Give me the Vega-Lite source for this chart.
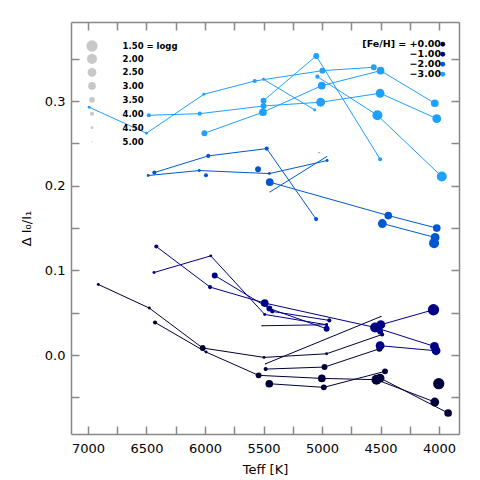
{
"$schema": "https://vega.github.io/schema/vega-lite/v6.json",
"width": 388, "height": 412,
"autosize": "none",
"padding": {"left": 71, "top": 22, "right": 21, "bottom": 46},
"background": "white",
"config": {"view": {"stroke": null}, "font": "DejaVu Sans"},
"data": {"values": [
{"id":"K1","o":1,"t":6912,"v":0.0834,"g":4.5,"f":0},
{"id":"K1","o":2,"t":6476,"v":0.0555,"g":4.5,"f":0},
{"id":"K1","o":3,"t":6020,"v":0.0083,"g":3.5,"f":0},
{"id":"K1","o":4,"t":5496,"v":-0.0028,"g":4.5,"f":0},
{"id":"K1","o":5,"t":4961,"v":0.0015,"g":4.5,"f":0},
{"id":"K1","o":6,"t":4487,"v":0.0243,"g":4.0,"f":0},
{"id":"K2","o":1,"t":6427,"v":0.0385,"g":4.0,"f":0},
{"id":"K2","o":2,"t":5991,"v":0.0035,"g":4.5,"f":0},
{"id":"K2","o":3,"t":5542,"v":-0.024,"g":3.5,"f":0},
{"id":"K2","o":4,"t":5002,"v":-0.0276,"g":3.0,"f":0},
{"id":"K2","o":5,"t":4535,"v":-0.0291,"g":2.0,"f":0},
{"id":"K2","o":6,"t":4037,"v":-0.0555,"g":2.5,"f":0},
{"id":"K3","o":1,"t":5482,"v":-0.0166,"g":4.0,"f":0},
{"id":"K3","o":2,"t":4979,"v":-0.0142,"g":3.5,"f":0},
{"id":"K3","o":3,"t":4510,"v":0.0074,"g":3.5,"f":0},
{"id":"K4","o":1,"t":5482,"v":-0.0103,"g":5.0,"f":0},
{"id":"K4","o":2,"t":4496,"v":0.0456,"g":5.0,"f":0},
{"id":"K5","o":1,"t":5451,"v":-0.0339,"g":3.0,"f":0},
{"id":"K5","o":2,"t":4985,"v":-0.0382,"g":3.5,"f":0},
{"id":"K5","o":3,"t":4462,"v":-0.0193,"g":3.5,"f":0},
{"id":"K6","o":1,"t":4504,"v":-0.0272,"g":2.5,"f":0},
{"id":"K6","o":2,"t":3923,"v":-0.0685,"g":3.0,"f":0},
{"id":"K7","o":1,"t":4003,"v":-0.0339,"g":1.5,"f":0},
{"id":"N1","o":1,"t":6416,"v":0.1282,"g":4.0,"f":-1},
{"id":"N1","o":2,"t":5957,"v":0.0803,"g":4.0,"f":-1},
{"id":"N1","o":3,"t":5490,"v":0.0614,"g":3.0,"f":-1},
{"id":"N1","o":4,"t":4547,"v":0.0326,"g":2.0,"f":-1},
{"id":"N1","o":5,"t":4040,"v":0.0102,"g":2.5,"f":-1},
{"id":"N2","o":1,"t":6436,"v":0.0975,"g":4.5,"f":-1},
{"id":"N2","o":2,"t":5951,"v":0.1172,"g":4.5,"f":-1},
{"id":"N2","o":3,"t":5490,"v":0.048,"g":4.5,"f":-1},
{"id":"N2","o":4,"t":4961,"v":0.0358,"g":4.5,"f":-1},
{"id":"N3","o":1,"t":5917,"v":0.094,"g":3.5,"f":-1},
{"id":"N3","o":2,"t":5450,"v":0.055,"g":3.5,"f":-1},
{"id":"N3","o":3,"t":4961,"v":0.031,"g":3.5,"f":-1},
{"id":"N4","o":1,"t":5425,"v":0.0515,"g":4.0,"f":-1},
{"id":"N4","o":2,"t":4938,"v":0.0409,"g":4.0,"f":-1},
{"id":"N5","o":1,"t":5513,"v":0.0346,"g":5.0,"f":-1},
{"id":"N5","o":2,"t":4961,"v":0.0358,"g":4.5,"f":-1},
{"id":"N6","o":1,"t":4498,"v":0.0358,"g":2.5,"f":-1},
{"id":"N6","o":2,"t":4048,"v":0.0535,"g":1.5,"f":-1},
{"id":"N7","o":1,"t":4504,"v":0.011,"g":2.5,"f":-1},
{"id":"N7","o":2,"t":4026,"v":0.0051,"g":2.5,"f":-1},
{"id":"N8","o":1,"t":4504,"v":0.0279,"g":3.5,"f":-1},
{"id":"M1","o":1,"t":6485,"v":0.2121,"g":4.5,"f":-2},
{"id":"M1","o":2,"t":6049,"v":0.218,"g":4.5,"f":-2},
{"id":"M1","o":3,"t":5450,"v":0.2144,"g":4.5,"f":-2},
{"id":"M1","o":4,"t":4957,"v":0.2298,"g":4.5,"f":-2},
{"id":"M2","o":1,"t":6433,"v":0.2156,"g":4.0,"f":-2},
{"id":"M2","o":2,"t":5972,"v":0.2353,"g":4.0,"f":-2},
{"id":"M2","o":3,"t":5473,"v":0.2439,"g":4.0,"f":-2},
{"id":"M2","o":4,"t":5051,"v":0.1606,"g":4.0,"f":-2},
{"id":"M3","o":1,"t":5444,"v":0.1928,"g":5.0,"f":-2},
{"id":"M3","o":2,"t":4960,"v":0.2345,"g":5.0,"f":-2},
{"id":"M4","o":1,"t":5447,"v":0.2043,"g":3.0,"f":-2},
{"id":"M4","o":2,"t":4434,"v":0.1648,"g":3.0,"f":-2},
{"id":"M4","o":3,"t":4020,"v":0.150,"g":3.0,"f":-2},
{"id":"M5","o":1,"t":4485,"v":0.1554,"g":2.5,"f":-2},
{"id":"M5","o":2,"t":4034,"v":0.1389,"g":2.5,"f":-2},
{"id":"M6","o":1,"t":5992,"v":0.2125,"g":4.0,"f":-2},
{"id":"M7","o":1,"t":5547,"v":0.2196,"g":3.5,"f":-2},
{"id":"M8","o":1,"t":5026,"v":0.2392,"g":5.0,"f":-2},
{"id":"M9","o":1,"t":4043,"v":0.1322,"g":2.0,"f":-2},
{"id":"L1","o":1,"t":6990,"v":0.2928,"g":4.5,"f":-3},
{"id":"L1","o":2,"t":6500,"v":0.2621,"g":4.5,"f":-3},
{"id":"L1","o":3,"t":6010,"v":0.3081,"g":4.5,"f":-3},
{"id":"L1","o":4,"t":5575,"v":0.3238,"g":4.0,"f":-3},
{"id":"L1","o":5,"t":4997,"v":0.336,"g":3.5,"f":-3},
{"id":"L1","o":6,"t":4558,"v":0.340,"g":3.5,"f":-3},
{"id":"L2","o":1,"t":6480,"v":0.2833,"g":4.0,"f":-3},
{"id":"L2","o":2,"t":6045,"v":0.2852,"g":4.0,"f":-3},
{"id":"L2","o":3,"t":5500,"v":0.2943,"g":3.5,"f":-3},
{"id":"L2","o":4,"t":5012,"v":0.2987,"g":2.5,"f":-3},
{"id":"L2","o":5,"t":4504,"v":0.3093,"g":2.5,"f":-3},
{"id":"L2","o":6,"t":4020,"v":0.2793,"g":2.5,"f":-3},
{"id":"L3","o":1,"t":6005,"v":0.2621,"g":3.5,"f":-3},
{"id":"L3","o":2,"t":5505,"v":0.2869,"g":3.0,"f":-3},
{"id":"L3","o":3,"t":5003,"v":0.3183,"g":3.0,"f":-3},
{"id":"L3","o":4,"t":4500,"v":0.336,"g":3.0,"f":-3},
{"id":"L3","o":5,"t":4037,"v":0.2975,"g":3.0,"f":-3},
{"id":"L4","o":1,"t":5500,"v":0.3006,"g":3.5,"f":-3},
{"id":"L4","o":2,"t":5050,"v":0.3534,"g":3.5,"f":-3},
{"id":"L4","o":3,"t":4504,"v":0.2314,"g":4.0,"f":-3},
{"id":"L5","o":1,"t":5500,"v":0.3258,"g":4.5,"f":-3},
{"id":"L5","o":2,"t":5063,"v":0.2896,"g":4.5,"f":-3},
{"id":"L6","o":1,"t":5040,"v":0.3289,"g":4.0,"f":-3},
{"id":"L6","o":2,"t":4527,"v":0.2833,"g":2.0,"f":-3},
{"id":"L6","o":3,"t":3977,"v":0.2109,"g":2.0,"f":-3}
]},
"layer": [
{
"mark": {"type": "line", "strokeWidth": 1},
"encoding": {
"x": {"field": "t", "type": "quantitative",
 "scale": {"domain": [3830, 7145], "reverse": true, "nice": false, "zero": false},
 "axis": {"orient": "bottom", "values": [7000,6750,6500,6250,6000,5750,5500,5250,5000,4750,4500,4250,4000],
  "format": "d", "labelExpr": "datum.value % 500 == 0 ? datum.label : ''",
  "tickSize": -8,
  "encode": {"ticks": {"update": {"y2": {"signal": "datum.value % 500 == 0 ? -16 : -8"}}}},
  "grid": false, "domainColor": "#888888", "tickColor": "#888888", "domainWidth": 1.5, "tickWidth": 1.5,
  "labelFont": "DejaVu Sans", "labelFontSize": 13, "labelColor": "black", "labelPadding": 16,
  "title": "Teff [K]", "titleFont": "DejaVu Sans", "titleFontSize": 13, "titleFontWeight": "normal", "titleColor": "black", "titlePadding": 8}},
"y": {"field": "v", "type": "quantitative",
 "scale": {"domain": [-0.0933, 0.3935], "nice": false, "zero": false},
 "axis": {"orient": "left", "values": [-0.05,0,0.05,0.1,0.15,0.2,0.25,0.3,0.35],
  "labelExpr": "abs(round(datum.value*100)) % 10 == 0 ? format(datum.value, '.1f') : ''",
  "tickSize": -8,
  "encode": {"ticks": {"update": {"x2": {"signal": "abs(round(datum.value*100)) % 10 == 0 ? 15 : 8"}}}},
  "grid": false, "domainColor": "#888888", "tickColor": "#888888", "domainWidth": 1.5, "tickWidth": 1.5,
  "labelFont": "DejaVu Sans", "labelFontSize": 13, "labelColor": "black", "labelPadding": 14,
  "title": "Δ I₀/I₁", "titleFont": "DejaVu Sans", "titleFontSize": 13, "titleFontWeight": "normal", "titleColor": "black", "titlePadding": 11}},
"color": {"field": "f", "type": "ordinal", "scale": {"domain": [0,-1,-2,-3], "range": ["#000038","#000084","#0058d0","#1ea0ff"]},
 "legend": {"orient": "none", "legendX": 367, "legendY": 17.5, "title": null, "padding": 0,
  "symbolType": "circle", "symbolSize": 24, "symbolStrokeWidth": 0,
  "labelAlign": "right", "labelOffset": -6.5, "labelFont": "DejaVu Sans", "labelFontSize": 9.5, "labelFontWeight": "bold", "labelColor": "black",
  "rowPadding": -1.5,
  "labelExpr": "datum.value == 0 ? '[Fe/H] = +0.00' : format(datum.value, '.2f')"}},
"detail": {"field": "id"},
"order": {"field": "o"}
}
},
{
"mark": {"type": "circle", "opacity": 1},
"encoding": {
"x": {"field": "t", "type": "quantitative",
 "axis": {"orient": "top", "values": [7000,6750,6500,6250,6000,5750,5500,5250,5000,4750,4500,4250,4000],
  "labels": false, "title": null, "tickSize": -8,
  "encode": {"ticks": {"update": {"y2": {"signal": "datum.value % 500 == 0 ? 16 : 8"}}}},
  "grid": false, "domainColor": "#888888", "tickColor": "#888888", "domainWidth": 1.5, "tickWidth": 1.5}},
"y": {"field": "v", "type": "quantitative",
 "axis": {"orient": "right", "values": [-0.05,0,0.05,0.1,0.15,0.2,0.25,0.3,0.35],
  "labels": false, "title": null, "tickSize": -8,
  "encode": {"ticks": {"update": {"x2": {"signal": "abs(round(datum.value*100)) % 10 == 0 ? -15 : -8"}}}},
  "grid": false, "domainColor": "#888888", "tickColor": "#888888", "domainWidth": 1.5, "tickWidth": 1.5}},
"color": {"field": "f", "type": "ordinal", "scale": {"domain": [0,-1,-2,-3], "range": ["#000038","#000084","#0058d0","#1ea0ff"]},
 "legend": {"orient": "none", "legendX": 367, "legendY": 17.5, "title": null, "padding": 0,
  "symbolType": "circle", "symbolSize": 24, "symbolStrokeWidth": 0,
  "labelAlign": "right", "labelOffset": -6.5, "labelFont": "DejaVu Sans", "labelFontSize": 9.5, "labelFontWeight": "bold", "labelColor": "black",
  "rowPadding": -1.5,
  "labelExpr": "datum.value == 0 ? '[Fe/H] = +0.00' : format(datum.value, '.2f')"}},
"size": {"field": "g", "type": "quantitative", "scale": {"type": "linear", "zero": false, "domain": [1.5,2,2.5,3,3.5,4,4.5,5], "range": [127,100,78,59,35,17,8.6,1.6]},
 "legend": {"orient": "none", "legendX": 15, "legendY": 18, "title": null, "padding": 0, "type": "symbol",
  "values": [1.5,2,2.5,3,3.5,4,4.5,5], "gridAlign": "all",
  "symbolType": "circle", "symbolFillColor": "#c8c8c8", "symbolStrokeColor": "#c8c8c8", "symbolStrokeWidth": 0,
  "labelOffset": 24.6, "labelFont": "DejaVu Sans", "labelFontSize": 8.5, "labelFontWeight": "bold", "labelColor": "black",
  "rowPadding": 1.9,
  "labelExpr": "datum.value == 1.5 ? '1.50 = logg' : format(datum.value, '.2f')"}}
}
}
],
"resolve": {"axis": {"x": "independent", "y": "independent"}}
}
